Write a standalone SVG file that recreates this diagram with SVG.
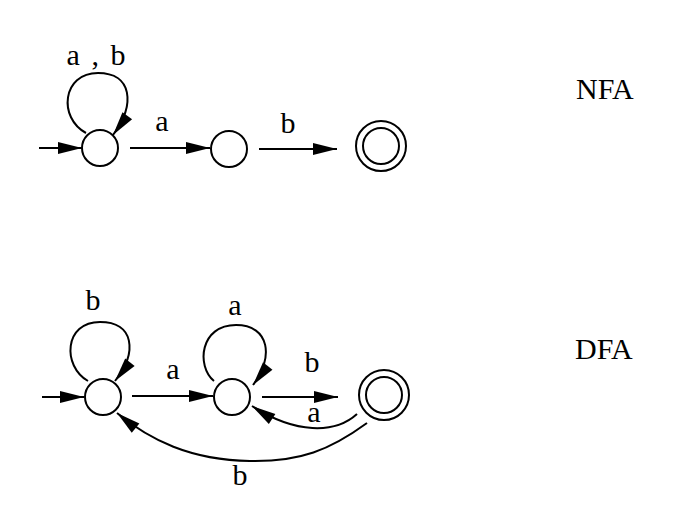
<svg xmlns="http://www.w3.org/2000/svg" width="680" height="508" viewBox="0 0 680 508">
<style>
.st{fill:#fff;stroke:#000;stroke-width:2}
.ed{fill:none;stroke:#000;stroke-width:2;marker-end:url(#ah)}
.lb{font-family:"Liberation Serif","Times New Roman",serif;font-size:30px;fill:#000;text-anchor:middle}
.tt{font-family:"Liberation Serif","Times New Roman",serif;font-size:30px;fill:#000}
</style>
<defs>
<marker id="ah" markerUnits="userSpaceOnUse" markerWidth="24" markerHeight="12" refX="24" refY="6" orient="auto" overflow="visible">
<path d="M0,0 L24,6 L0,12 z" fill="#000"/>
</marker>
</defs>
<rect width="680" height="508" fill="#fff"/>
<g id="connectors">
<path class="ed" d="M39,148 L82,148"/>
<path class="ed" d="M86,133 C58,118 62,73 98,73 C132,73 136,104 113,135"/>
<path class="ed" d="M130,148 L210,148"/>
<path class="ed" d="M259,149 L337,149"/>
<path class="ed" d="M42,397 L84,397"/>
<path class="ed" d="M88,381 C62,366 64,322 100,322 C134,322 138,352 115,381"/>
<path class="ed" d="M132,396 L213,396"/>
<path class="ed" d="M214,381 C196,366 200,325 236,325 C270,325 274,358 253,385"/>
<path class="ed" d="M262,397 L338,397"/>
<path class="ed" d="M357,414 C335,434 295,434 252,406"/>
<path class="ed" d="M367,423 C330,450 300,462 250,461 C190,460 150,440 117,413"/>
<text class="lb" x="96" y="65" style="word-spacing:4px">a , b</text>
<text class="lb" x="162" y="131">a</text>
<text class="lb" x="288" y="133">b</text>
<text class="lb" x="93" y="310">b</text>
<text class="lb" x="173" y="379">a</text>
<text class="lb" x="235" y="315">a</text>
<text class="lb" x="312" y="372">b</text>
<text class="lb" x="314" y="422">a</text>
<text class="lb" x="240" y="485">b</text>
</g>
<g id="nfa-q0"><circle class="st" cx="100" cy="148" r="18"/></g>
<g id="nfa-q1"><circle class="st" cx="229" cy="149" r="18"/></g>
<g id="nfa-q2"><circle class="st" cx="381" cy="146" r="25"/><circle class="st" cx="381" cy="146" r="18"/></g>
<g id="dfa-q0"><circle class="st" cx="103" cy="397" r="18"/></g>
<g id="dfa-q1"><circle class="st" cx="232" cy="397" r="18"/></g>
<g id="dfa-q2"><circle class="st" cx="384" cy="395" r="25"/><circle class="st" cx="384" cy="395" r="18"/></g>
<g id="titles">
<text class="tt" x="576" y="99">NFA</text>
<text class="tt" x="575" y="359">DFA</text>
</g>
</svg>
